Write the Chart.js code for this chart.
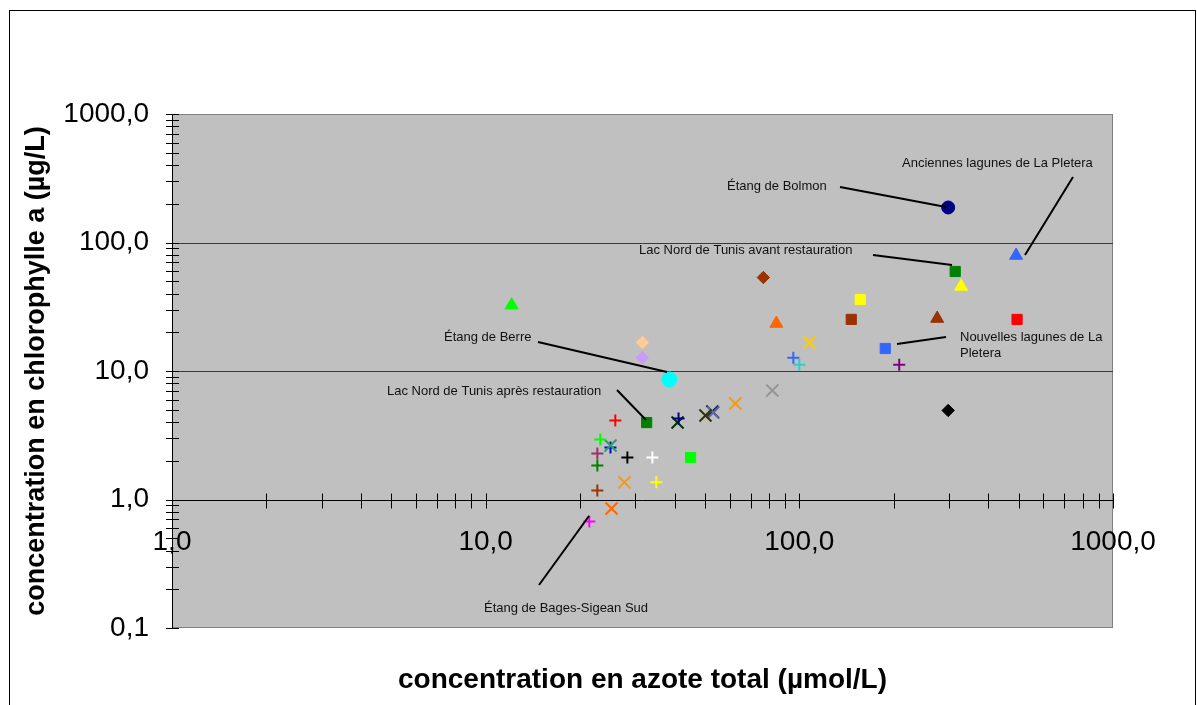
<!DOCTYPE html>
<html>
<head>
<meta charset="utf-8">
<script src="https://cdn.jsdelivr.net/npm/chart.js@4/dist/chart.umd.min.js"></script>
<style>
  html, body { margin: 0; padding: 0; background: #fff; }
  canvas { display: block; }
</style>
</head>
<body>
<canvas id="c" width="1197" height="705"></canvas>
<script>
// ---------------- DATA ----------------
const xTitle = 'concentration en azote total (µmol/L)';
const yTitle = 'concentration en chlorophylle a (µg/L)';

const xTickValues = [1,2,3,4,5,6,7,8,9,10,20,30,40,50,60,70,80,90,100,200,300,400,500,600,700,800,900,1000];
const xMajorTicks = [1, 10, 100, 1000];
const xMajorLabels = ['1,0', '10,0', '100,0', '1000,0'];

const yTickValues = [0.1,0.2,0.3,0.4,0.5,0.6,0.7,0.8,0.9,1,2,3,4,5,6,7,8,9,10,20,30,40,50,60,70,80,90,100,200,300,400,500,600,700,800,900,1000];
const yMajorTicks = [0.1, 1, 10, 100, 1000];
const yMajorLabels = ['0,1', '1,0', '10,0', '100,0', '1000,0'];
const yGridValues = [1, 10, 100];

// one entry per site (nitrogen total, chlorophyll a)
const nitrogen = [12.1, 31.6, 31.6, 38.5, 32.6, 45.0, 25.9, 23.2, 25.0, 25.0, 22.7, 22.7, 28.3, 34.0, 27.7, 35.0, 22.7, 25.2, 21.4,
                  41.2, 40.9, 50.2, 53.2, 52.8, 62.5, 82.0, 76.8, 84.5, 107.6, 95.7, 100, 156.4, 146.4, 187.9, 208.2, 275.1, 314, 328, 494.5, 491, 298.2, 298.2];
const chlorophyll = [32.5, 16.7, 12.7, 8.59, 3.97, 2.12, 4.12, 2.93, 2.63, 2.54, 2.28, 1.84, 2.12, 2.12, 1.36, 1.36, 1.175, 0.851, 0.674,
                  4.27, 3.97, 4.51, 4.75, 4.84, 5.59, 7.05, 53.4, 23.4, 16.7, 12.7, 11.2, 36.0, 25.2, 14.97, 11.2, 25.6, 59.5, 45.5, 25.2, 79.2, 187.3, 4.93];

// ---------------- STYLES ----------------
const markerShapes = ['triangle','rectRot','rectRot','circle','rect','rect','cross','cross','crossRot','cross','cross','cross','cross','cross','crossRot','cross','cross','crossRot','cross',
                  'cross','crossRot','crossRot','crossRot','crossRot','crossRot','crossRot','rectRot','triangle','crossRot','cross','cross','rect','rect','rect','cross','triangle','rect','triangle','rect','triangle','circle','rectRot'];
const markerColors = ['#00FF00','#FFCC99','#CC99FF','#00FFFF','#008000','#00FF00','#FF0000','#00FF00','#339966','#0000FF','#993366','#008000','#000000','#FFFFFF','#FF9900','#FFFF00','#993300','#FF6600','#FF00FF',
                  '#000080','#003300','#333300','#666699','#003366','#FF9900','#969696','#993300','#FF6600','#FFCC00','#3366FF','#33CCCC','#FFFF00','#993300','#3366FF','#800080','#993300','#008000','#FFFF00','#FF0000','#3366FF','#000080','#000000'];
const shapeRadius = { triangle: 7.5, rectRot: 6.2, circle: 6.5, rect: 7.2, cross: 6, crossRot: 8.5 };
const shapeBorder = { triangle: 1, rectRot: 1, circle: 1, rect: 1, cross: 2, crossRot: 2 };

const FONT = '"Liberation Sans", Arial, sans-serif';

const datasets = nitrogen.map((xv, i) => ({
  data: [{ x: xv, y: chlorophyll[i] }],
  pointStyle: markerShapes[i],
  pointRadius: markerShapes[i] === 'circle' && i === 3 ? 7.5 : shapeRadius[markerShapes[i]],
  pointBorderWidth: shapeBorder[markerShapes[i]],
  backgroundColor: markerColors[i],
  borderColor: markerColors[i],
  showLine: false
}));

const notes = [
  { text: ['Anciennes lagunes de La Pletera'], x: 902, y: 163, from: [1073, 177], to: [1025, 255] },
  { text: ['Étang de Bolmon'], x: 727, y: 186, from: [840, 187], to: [946, 207] },
  { text: ['Lac Nord de Tunis avant restauration'], x: 639, y: 250, from: [873, 255], to: [952, 265] },
  { text: ['Étang de Berre'], x: 444, y: 337, from: [538, 342], to: [667, 372] },
  { text: ['Lac Nord de Tunis après restauration'], x: 387, y: 391, from: [617, 390], to: [646, 420] },
  { text: ['Nouvelles lagunes de La', 'Pletera'], x: 960, y: 337, from: [946, 337], to: [897, 344] },
  { text: ['Étang de Bages-Sigean Sud'], x: 484, y: 608, from: [539, 585], to: [589, 516] }
];

function majorLabel(v, majors, labels) {
  for (let k = 0; k < majors.length; k++) {
    if (Math.abs(v - majors[k]) / majors[k] < 1e-6) return labels[k];
  }
  return '';
}

const excelLook = {
  id: 'excelLook',
  beforeDraw(chart) {
    const { ctx, chartArea: a, scales: { y } } = chart;
    ctx.save();
    ctx.fillStyle = '#fff';
    ctx.fillRect(0, 0, chart.width, chart.height);
    ctx.strokeStyle = '#000';
    ctx.lineWidth = 1;
    ctx.strokeRect(9.5, 10.5, 1186, 800);
    ctx.fillStyle = '#C0C0C0';
    ctx.fillRect(a.left, a.top, a.right - a.left, a.bottom - a.top);
    ctx.strokeStyle = '#808080';
    ctx.strokeRect(a.left + 0.5, a.top + 0.5, a.right - a.left - 1, a.bottom - a.top - 1);
    ctx.strokeStyle = '#3a3a3a';
    yGridValues.forEach(v => {
      const py = Math.round(y.getPixelForValue(v)) + 0.5;
      ctx.beginPath(); ctx.moveTo(a.left, py); ctx.lineTo(a.right, py); ctx.stroke();
    });
    ctx.restore();
  },
  beforeDatasetsDraw(chart) {
    const { ctx, chartArea: a, scales: { x, y } } = chart;
    ctx.save();
    ctx.strokeStyle = '#000';
    ctx.lineWidth = 1;
    const axisY = Math.round(y.getPixelForValue(1)) + 0.5;
    const axisX = a.left + 0.5;
    ctx.beginPath(); ctx.moveTo(a.left, axisY); ctx.lineTo(a.right, axisY); ctx.stroke();
    ctx.beginPath(); ctx.moveTo(axisX, a.top); ctx.lineTo(axisX, a.bottom); ctx.stroke();
    xTickValues.forEach(v => {
      const px = Math.round(x.getPixelForValue(v)) + 0.5;
      ctx.beginPath(); ctx.moveTo(px, axisY - 7); ctx.lineTo(px, axisY + 8); ctx.stroke();
    });
    yTickValues.forEach(v => {
      const py = Math.round(y.getPixelForValue(v)) + 0.5;
      ctx.beginPath(); ctx.moveTo(a.left - 6, py); ctx.lineTo(a.left + 7, py); ctx.stroke();
    });
    ctx.fillStyle = '#000';
    ctx.font = '28px ' + FONT;
    ctx.textAlign = 'center';
    ctx.textBaseline = 'middle';
    xMajorTicks.forEach((v, i) => {
      ctx.fillText(xMajorLabels[i], x.getPixelForValue(v), axisY + 42);
    });
    ctx.restore();
  },
  afterDraw(chart) {
    const { ctx } = chart;
    ctx.save();
    ctx.fillStyle = '#111';
    ctx.strokeStyle = '#000';
    ctx.lineWidth = 2;
    ctx.font = '13px ' + FONT;
    ctx.textAlign = 'left';
    ctx.textBaseline = 'middle';
    notes.forEach(n => {
      n.text.forEach((t, k) => ctx.fillText(t, n.x, n.y + k * 16));
      ctx.beginPath(); ctx.moveTo(n.from[0], n.from[1]); ctx.lineTo(n.to[0], n.to[1]); ctx.stroke();
    });
    ctx.restore();
  }
};

new Chart(document.getElementById('c'), {
  type: 'scatter',
  data: { datasets },
  plugins: [excelLook],
  options: {
    responsive: false,
    animation: false,
    devicePixelRatio: 1,
    events: [],
    layout: { padding: { left: 0, top: 114, right: 84, bottom: 0 } },
    plugins: { legend: { display: false }, tooltip: { enabled: false } },
    scales: {
      x: {
        type: 'logarithmic', min: 1, max: 1000, position: 'bottom',
        afterBuildTicks: s => { s.ticks = xTickValues.map(v => ({ value: v })); },
        afterFit: s => { s.height = 77; },
        ticks: { display: false },
        grid: { display: false, drawTicks: false },
        border: { display: false },
        title: { display: true, text: xTitle, color: '#000', font: { family: FONT, size: 28, weight: 'bold' }, padding: { top: 0, bottom: 8 } }
      },
      y: {
        type: 'logarithmic', min: 0.1, max: 1000, position: 'left',
        afterBuildTicks: s => { s.ticks = yTickValues.map(v => ({ value: v })); },
        afterFit: s => { s.width = 172; },
        ticks: {
          autoSkip: false, padding: 23, color: '#000',
          font: { family: FONT, size: 28 },
          callback: v => majorLabel(v, yMajorTicks, yMajorLabels)
        },
        grid: { display: false, drawTicks: false },
        border: { display: false },
        title: { display: true, text: yTitle, color: '#000', font: { family: FONT, size: 27, weight: 'bold' }, padding: { top: 20, bottom: 0 } }
      }
    }
  }
});
</script>
</body>
</html>
